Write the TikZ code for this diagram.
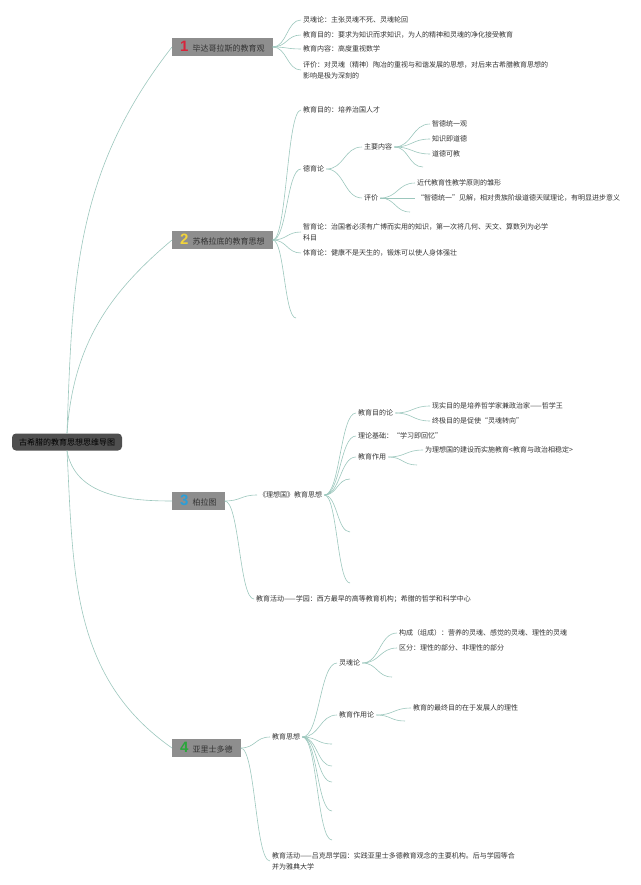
\documentclass[tikz,border=0pt]{standalone}
\usepackage{fontspec}
\setmainfont{Noto Sans CJK SC}
\newfontfamily\numfont{Liberation Sans}
\usepackage{xcolor}
\usepackage{tikz}
\usetikzlibrary{calc}
\definecolor{linec}{HTML}{9CC7BD}
\definecolor{boxgray}{HTML}{8E8E8E}
\definecolor{rootgray}{HTML}{4F4F4F}
\definecolor{txtc}{HTML}{333333}
\definecolor{numred}{HTML}{D8253B}
\definecolor{numyellow}{HTML}{F2D43A}
\definecolor{numblue}{HTML}{2A9FD8}
\definecolor{numgreen}{HTML}{2BA63B}
\tikzset{
  txt/.style={anchor=west, inner sep=2pt, text=txtc, font=\fontsize{7}{11}\selectfont, align=left},
  mainbox/.style={anchor=west, fill=boxgray, minimum height=18pt, inner xsep=8pt, inner ysep=1pt, text=txtc, font=\fontsize{8}{10}\selectfont},
  rootbox/.style={fill=rootgray, rounded corners=4pt, minimum width=110pt, minimum height=17pt, font=\fontsize{8}{10}\selectfont, text=black},
  trunk/.style={draw=linec, line width=0.6pt},
  link/.style={draw=linec, line width=0.6pt,
    to path={let \p1=(\tikztostart), \p2=(\tikztotarget) in
      .. controls ({0.5*(\x1+\x2)},\y1) and ({0.5*(\x1+\x2)},\y2) .. (\tikztotarget) \tikztonodes}}
}
\newcommand{\topicnum}[2]{{\numfont\bfseries\fontsize{15}{15}\selectfont\color{#1}#2}\hspace{4pt}}

\begin{document}
\begin{tikzpicture}[x=1pt,y=1pt]
		\useasboundingbox (0,0) rectangle (640,-885);
		\node[rootbox] (R) at (67,-442) {古希腊的教育思想思维导图};
		%
		\node[mainbox] (B1) at (172,-47) {\topicnum{numred}{1}毕达哥拉斯的教育观};
		\node[txt] (B1a) at (301,-20) {灵魂论：主张灵魂不死、灵魂轮回};
		\node[txt] (B1b) at (301,-35) {教育目的：要求为知识而求知识，为人的精神和灵魂的净化接受教育};
		\node[txt] (B1c) at (301,-49) {教育内容：高度重视数学};
		\node[txt] (B1d) at (301,-70) {评价：对灵魂（精神）陶冶的重视与和谐发展的思想，对后来古希腊教育思想的\\影响是极为深刻的};
		%
		\node[mainbox] (B2) at (172,-240) {\topicnum{numyellow}{2}苏格拉底的教育思想};
		\node[txt] (B2a) at (301,-110) {教育目的：培养治国人才};
		\node[txt] (B2b) at (301,-169) {德育论};
		\node[txt] (B2b1) at (362,-147) {主要内容};
		\node[txt] (B2b1a) at (430,-124) {智德统一观};
		\node[txt] (B2b1b) at (430,-139) {知识即道德};
		\node[txt] (B2b1c) at (430,-154) {道德可教};
		\coordinate (E2b1) at (423,-167);
		\node[txt] (B2b2) at (362,-198) {评价};
		\node[txt] (B2b2a) at (415,-183) {近代教育性教学原则的雏形};
		\node[txt] (B2b2b) at (415,-198) {“智德统一”见解，相对贵族阶级道德天赋理论，有明显进步意义};
		\coordinate (E2b2) at (410,-212);
		\node[txt] (B2c) at (301,-232) {智育论：治国者必须有广博而实用的知识，第一次将几何、天文、算数列为必学\\科目};
		\node[txt] (B2d) at (301,-253) {体育论：健康不是天生的，锻炼可以使人身体强壮};
		\coordinate (E2) at (296,-318);
		%
		\node[mainbox] (B3) at (172,-501) {\topicnum{numblue}{3}柏拉图};
		\node[txt] (B3a) at (257,-495) {《理想国》教育思想};
		\node[txt] (B3a1) at (356,-413) {教育目的论};
		\node[txt] (B3a1a) at (430,-406) {现实目的是培养哲学家兼政治家——哲学王};
		\node[txt] (B3a1b) at (430,-421) {终极目的是促使“灵魂转向”};
		\node[txt] (B3a2) at (356,-436) {理论基础：“学习即回忆”};
		\node[txt] (B3a3) at (356,-457) {教育作用};
		\node[txt] (B3a3a) at (423,-450) {为理想国的建设而实施教育<教育与政治相稳定>};
		\coordinate (E3a3) at (417,-465);
		\coordinate (E3a) at (350,-479);
		\coordinate (E3b) at (350,-532);
		\coordinate (E3c) at (350,-583);
		\node[txt] (B3b) at (254,-599) {教育活动——学园：西方最早的高等教育机构；希腊的哲学和科学中心};
		%
		\node[mainbox] (B4) at (172,-748) {\topicnum{numgreen}{4}亚里士多德};
		\node[txt] (B4a) at (270,-737) {教育思想};
		\node[txt] (B4a1) at (337,-663) {灵魂论};
		\node[txt] (B4a1a) at (397,-633) {构成（组成）：营养的灵魂、感觉的灵魂、理性的灵魂};
		\node[txt] (B4a1b) at (397,-648) {区分：理性的部分、非理性的部分};
		\coordinate (E4a1) at (392,-677);
		\node[txt] (B4a2) at (337,-715) {教育作用论};
		\node[txt] (B4a2a) at (411,-708) {教育的最终目的在于发展人的理性};
		\coordinate (E4a2) at (405,-721);
		\coordinate (E4a) at (332,-744);
		\coordinate (E4b) at (332,-766);
		\coordinate (E4c) at (332,-782);
		\coordinate (E4d) at (332,-811);
		\coordinate (E4e) at (332,-840);
		\node[txt] (B4b) at (270,-861) {教育活动——吕克昂学园：实践亚里士多德教育观念的主要机构。后与学园等合\\并为雅典大学};
		%
		\path[trunk]
		(R.north) edge[out=88,in=232] (B1.west)
		(R.north) edge[out=86,in=220] (B2.west)
		(R.south) edge[out=-80,in=180] (B3.west)
		(R.south) edge[out=-87,in=145] (B4.west);
		%
		\path[link]
		(B1.east) edge (B1a.west) (B1.east) edge (B1b.west)
		(B1.east) edge (B1c.west) (B1.east) edge (B1d.west)
		(B2.east) edge (B2a.west) (B2.east) edge (B2b.west)
		(B2.east) edge (B2c.west) (B2.east) edge (B2d.west)
		(B2.east) edge (E2)
		(B2b.east) edge (B2b1.west) (B2b.east) edge (B2b2.west)
		(B2b1.east) edge (B2b1a.west) (B2b1.east) edge (B2b1b.west)
		(B2b1.east) edge (B2b1c.west) (B2b1.east) edge (E2b1)
		(B2b2.east) edge (B2b2a.west) (B2b2.east) edge (B2b2b.west)
		(B2b2.east) edge (E2b2)
		(B3.east) edge (B3a.west) (B3.east) edge (B3b.west)
		(B3a.east) edge (B3a1.west) (B3a.east) edge (B3a2.west)
		(B3a.east) edge (B3a3.west) (B3a.east) edge (E3a)
		(B3a.east) edge (E3b) (B3a.east) edge (E3c)
		(B3a1.east) edge (B3a1a.west) (B3a1.east) edge (B3a1b.west)
		(B3a3.east) edge (B3a3a.west) (B3a3.east) edge (E3a3)
		(B4.east) edge (B4a.west) (B4.east) edge (B4b.west)
		(B4a.east) edge (B4a1.west) (B4a.east) edge (B4a2.west)
		(B4a.east) edge (E4a) (B4a.east) edge (E4b) (B4a.east) edge (E4c)
		(B4a.east) edge (E4d) (B4a.east) edge (E4e)
		(B4a1.east) edge (B4a1a.west) (B4a1.east) edge (B4a1b.west)
		(B4a1.east) edge (E4a1)
		(B4a2.east) edge (B4a2a.west) (B4a2.east) edge (E4a2);
		\end{tikzpicture}
\end{document}
